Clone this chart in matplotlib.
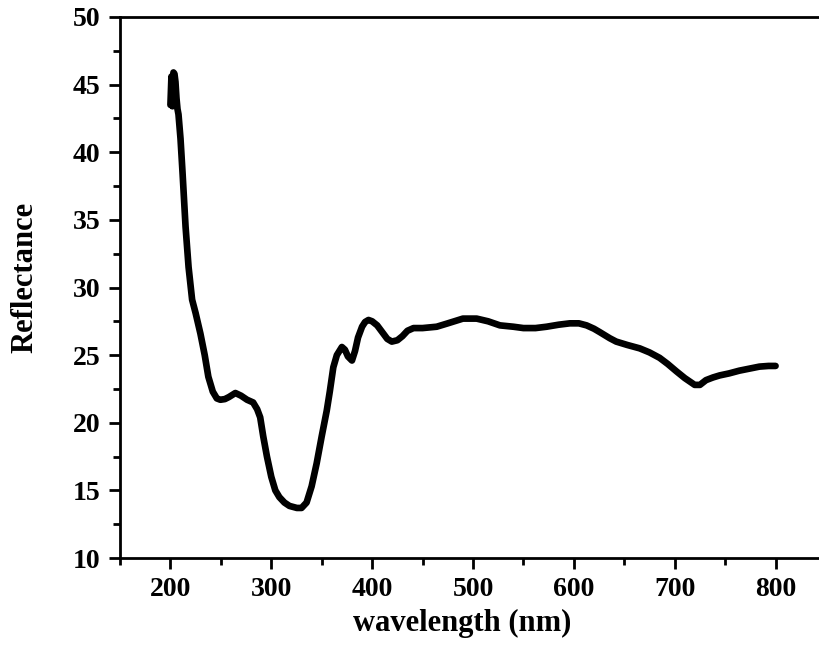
import matplotlib
matplotlib.use("Agg")
import matplotlib.pyplot as plt
from matplotlib.ticker import MultipleLocator

wavelength = [200, 201, 202, 203, 204, 205, 206, 207, 208, 210, 212, 215, 218, 221.5, 225,
              229.7, 234, 237.6, 242, 246, 249.5, 254, 258, 264.4, 270, 276, 282, 286,
              289, 292, 295.7, 300, 304, 308, 313, 318, 325.4, 330, 335, 340, 345, 350,
              355, 358, 361.5, 365, 370, 373, 376, 380, 383, 386, 390, 393, 396.4, 400,
              405, 410, 415, 419.5, 425, 430, 435, 441, 450, 464, 475, 490, 503.6, 515,
              526.7, 540, 550, 562, 573, 585, 596, 605, 612.6, 620, 625.7, 635.6, 642,
              653, 665.3, 675, 685, 693, 701.7, 710, 719.8, 725, 731, 738, 744.6, 754,
              764, 774, 784, 793, 800]
reflectance = [43.5, 45.6, 43.4, 45.9, 45.8, 45.2, 44.0, 43.2, 42.8, 41.0, 38.5, 34.5, 31.5,
               29.1, 28.1, 26.6, 25.0, 23.4, 22.3, 21.8, 21.7, 21.75, 21.9, 22.2, 22.0,
               21.7, 21.5, 21.0, 20.4, 19.0, 17.5, 16.0, 15.0, 14.5, 14.1, 13.85, 13.7,
               13.7, 14.1, 15.3, 17.0, 19.0, 20.9, 22.3, 24.1, 25.0, 25.6, 25.4, 24.9,
               24.6, 25.3, 26.3, 27.1, 27.45, 27.6, 27.5, 27.2, 26.7, 26.2, 26.0, 26.1,
               26.4, 26.8, 27.0, 27.0, 27.1, 27.35, 27.7, 27.7, 27.5, 27.2, 27.1, 27.0,
               27.0, 27.1, 27.25, 27.35, 27.35, 27.2, 26.95, 26.7, 26.25, 26.0, 25.75,
               25.5, 25.2, 24.8, 24.35, 23.8, 23.3, 22.8, 22.8, 23.15, 23.35, 23.5,
               23.65, 23.85, 24.0, 24.15, 24.2, 24.2]

plt.rcParams['font.family'] = ['Liberation Serif', 'DejaVu Serif']
plt.rcParams['font.weight'] = 'bold'

fig = plt.figure(figsize=(8.19, 6.45), dpi=100)
ax = fig.add_axes([120/819, 87/645, 706/819, 541/645])

ax.plot(wavelength, reflectance, color='black', linewidth=4.8,
        solid_joinstyle='round', solid_capstyle='round')

ax.set_xlim(150, 850)
ax.set_ylim(10, 50)
ax.xaxis.set_major_locator(MultipleLocator(100))
ax.xaxis.set_minor_locator(MultipleLocator(50))
ax.yaxis.set_major_locator(MultipleLocator(5))
ax.yaxis.set_minor_locator(MultipleLocator(2.5))

ax.spines['right'].set_visible(False)
for s in ['left', 'bottom', 'top']:
    ax.spines[s].set_linewidth(2)

ax.tick_params(which='major', direction='out', length=8, width=2, labelsize=20, pad=6)
ax.tick_params(which='minor', direction='out', length=5, width=2)
ax.tick_params(top=False, right=False, which='both')
for lbl in ax.get_xticklabels() + ax.get_yticklabels():
    lbl.set_fontweight('bold')

ax.set_xlabel('wavelength (nm)', fontsize=22, fontweight='bold', labelpad=9)
ax.set_ylabel('Reflectance', fontsize=22, fontweight='bold', labelpad=24)
ax.xaxis.set_label_coords(0.484, -0.095)
ax.yaxis.label.set_y(0.519)

fig.savefig('out.png', dpi=100)
